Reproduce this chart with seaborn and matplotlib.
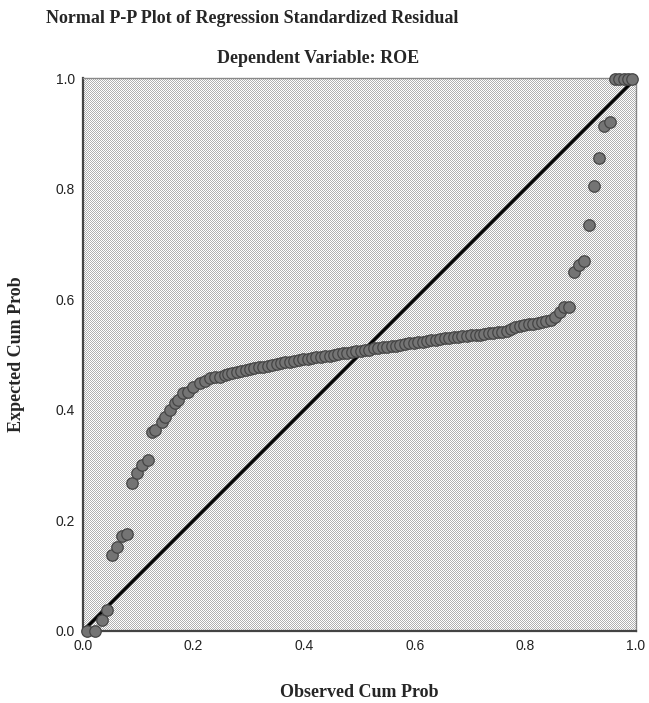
import matplotlib
matplotlib.use("Agg")
import matplotlib.pyplot as plt
import numpy as np
import pandas as pd
import seaborn as sns

# observed cumulative probability (x) and expected cumulative probability (y)
observed = [
    0.007, 0.022, 0.034, 0.043,
    0.052, 0.061, 0.070, 0.079,
    0.088, 0.097, 0.106, 0.117,
    0.125, 0.130, 0.143, 0.148, 0.157, 0.166, 0.172, 0.181,
    0.190, 0.199, 0.212, 0.221, 0.230, 0.239, 0.248, 0.257,
    0.262, 0.270, 0.278, 0.286, 0.294, 0.302, 0.310, 0.318, 0.326, 0.334,
    0.342, 0.350, 0.358, 0.366, 0.374, 0.382, 0.390, 0.398, 0.406, 0.414,
    0.422, 0.430, 0.438, 0.446, 0.454, 0.462, 0.470, 0.478, 0.486, 0.494,
    0.502, 0.510, 0.518, 0.526, 0.534, 0.542, 0.550, 0.558, 0.566, 0.574,
    0.582, 0.590, 0.598, 0.606, 0.614, 0.622, 0.630, 0.638, 0.646, 0.654,
    0.662, 0.670, 0.678, 0.686, 0.694, 0.702, 0.710, 0.718, 0.726, 0.734,
    0.742, 0.750, 0.758, 0.766, 0.774, 0.782, 0.790, 0.798, 0.806, 0.814,
    0.822, 0.830, 0.838, 0.846, 0.854, 0.862, 0.870, 0.878,
    0.888, 0.897, 0.906, 0.915, 0.924, 0.933, 0.942, 0.953,
    0.962, 0.970, 0.978, 0.986, 0.993,
]
expected = [
    0.000, 0.000, 0.020, 0.038,
    0.137, 0.152, 0.172, 0.176,
    0.268, 0.286, 0.300, 0.309,
    0.360, 0.363, 0.378, 0.387, 0.400, 0.412, 0.418, 0.430,
    0.432, 0.441, 0.448, 0.452, 0.458, 0.459, 0.459, 0.463,
    0.465, 0.467, 0.468, 0.470, 0.472, 0.474, 0.476, 0.477, 0.478, 0.480,
    0.481, 0.483, 0.485, 0.486, 0.487, 0.489, 0.490, 0.491, 0.492, 0.494,
    0.495, 0.496, 0.497, 0.498, 0.500, 0.501, 0.502, 0.503, 0.505, 0.506,
    0.507, 0.508, 0.509, 0.511, 0.512, 0.513, 0.514, 0.515, 0.516, 0.518,
    0.519, 0.520, 0.521, 0.522, 0.523, 0.524, 0.526, 0.527, 0.528, 0.529,
    0.530, 0.531, 0.532, 0.533, 0.534, 0.535, 0.535, 0.536, 0.537, 0.538,
    0.539, 0.540, 0.541, 0.542, 0.547, 0.549, 0.551, 0.553, 0.555, 0.556,
    0.557, 0.558, 0.560, 0.562, 0.568, 0.577, 0.585, 0.586,
    0.649, 0.662, 0.669, 0.734, 0.805, 0.855, 0.913, 0.920,
    0.998, 0.998, 0.998, 0.998, 0.998,
]
ref_line = [0.0, 1.0]
ticks = [0.0, 0.2, 0.4, 0.6, 0.8, 1.0]
tick_labels = ["0.0", "0.2", "0.4", "0.6", "0.8", "1.0"]

df = pd.DataFrame({"observed": observed, "expected": expected})
ref = pd.DataFrame({"x": ref_line, "y": ref_line})

sns.set_style("white")
plt.rcParams["font.family"] = ["Liberation Sans", "DejaVu Sans"]

W, H = 649, 703
fig = plt.figure(figsize=(W / 100, H / 100), dpi=100)
ax = fig.add_axes([83 / W, 72 / H, 553 / W, 553 / H])
ax.patch.set_alpha(0)
ax.set_zorder(2)

# 1-pixel dither pattern behind the plot area, placed pixel for pixel (no resampling)
n = 553
checker = (np.indices((n, n)).sum(axis=0) % 2)
grey = 0xb0 / 255
rgb = np.ones((n, n, 3))
rgb[checker == 1] = grey
fig.figimage(rgb, xo=83, yo=72, zorder=0)

sns.lineplot(data=ref, x="x", y="y", color="black", linewidth=2.4, ax=ax, zorder=2)
sns.scatterplot(data=df, x="observed", y="expected", s=68, color="#747474",
                edgecolor="#454545", linewidth=0.9, ax=ax, zorder=3, clip_on=False)

ax.set_xlim(0, 1)
ax.set_ylim(0, 1)
ax.set_xticks(ticks)
ax.set_xticklabels(tick_labels)
ax.set_yticks(ticks)
ax.set_yticklabels(tick_labels)
ax.tick_params(length=0, labelsize=10, colors="#222222", pad=6)
for side in ["left", "bottom"]:
    ax.spines[side].set_color("#444444")
    ax.spines[side].set_linewidth(1.6)
for side in ["top", "right"]:
    ax.spines[side].set_color("#888888")
    ax.spines[side].set_linewidth(1.0)

serif = ["Liberation Serif", "DejaVu Serif"]
ax.set_xlabel("Observed Cum Prob", family=serif, fontweight="bold", fontsize=13, labelpad=22)
ax.set_ylabel("Expected Cum Prob", family=serif, fontweight="bold", fontsize=13, labelpad=22)
fig.text(0.388, 0.974, "Normal P-P Plot of Regression Standardized Residual", family=serif,
         fontweight="bold", fontsize=13, ha="center", va="center")
fig.text(0.49, 0.917, "Dependent Variable: ROE", family=serif,
         fontweight="bold", fontsize=13, ha="center", va="center")

fig.savefig("out.png", dpi=100)
